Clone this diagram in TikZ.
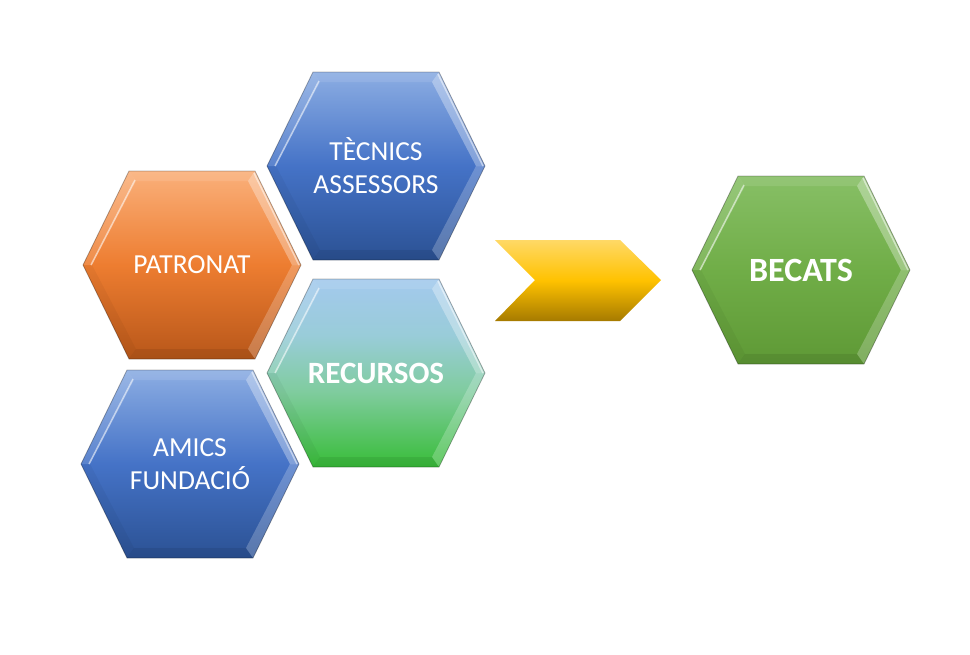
\documentclass[tikz,border=0pt]{standalone}
\usepackage{fontspec}
\setmainfont{Carlito}
\begin{document}
\pgfdeclareverticalshading{blueshade}{100bp}{rgb(0bp)=(0.17,0.32,0.58); rgb(25bp)=(0.17,0.32,0.58); rgb(50bp)=(0.27,0.45,0.78); rgb(75bp)=(0.55,0.68,0.89); rgb(100bp)=(0.55,0.68,0.89)}
\pgfdeclareverticalshading{orangeshade}{100bp}{rgb(0bp)=(0.72,0.34,0.10); rgb(25bp)=(0.72,0.34,0.10); rgb(50bp)=(0.93,0.49,0.19); rgb(75bp)=(0.98,0.69,0.48); rgb(100bp)=(0.98,0.69,0.48)}
\pgfdeclareverticalshading{recshade}{100bp}{rgb(0bp)=(0.22,0.74,0.22); rgb(25bp)=(0.22,0.74,0.22); rgb(45bp)=(0.50,0.80,0.62); rgb(60bp)=(0.60,0.80,0.85); rgb(75bp)=(0.64,0.79,0.93); rgb(100bp)=(0.64,0.79,0.93)}
\pgfdeclareverticalshading{greenshade}{100bp}{rgb(0bp)=(0.37,0.60,0.21); rgb(25bp)=(0.37,0.60,0.21); rgb(50bp)=(0.44,0.68,0.28); rgb(75bp)=(0.53,0.75,0.40); rgb(100bp)=(0.53,0.75,0.40)}
\pgfdeclareverticalshading{chevshade}{100bp}{rgb(0bp)=(0.65,0.48,0.00); rgb(25bp)=(0.65,0.48,0.00); rgb(50bp)=(1.00,0.76,0.00); rgb(75bp)=(1.00,0.85,0.40); rgb(100bp)=(1.00,0.85,0.40)}
\tikzset{
  hextext/.style={text=white, align=center, font=\fontsize{27.5}{33}\selectfont, inner sep=0pt},
  hexbold/.style={hextext, font=\fontsize{31}{33}\selectfont\bfseries},
  hexbig/.style={hextext, font=\fontsize{34}{36}\selectfont\bfseries},
}
\newcommand{\hexa}[6]{%
\begin{scope}[shift={(#2,#3)}]
  \shade[shading=#4] (-109,0) -- (-63,-94) -- (63,-94) -- (109,0) -- (63,94) -- (-63,94) -- cycle;
  \fill[white,opacity=0.10] (-63,-94) -- (63,-94) -- (56,-84) -- (-56,-84) -- cycle;
  \fill[white,opacity=0.32] (63,-94) -- (109,0) -- (100,0) -- (56,-84) -- cycle;
  \fill[white,opacity=0.22] (109,0) -- (63,94) -- (56,84) -- (100,0) -- cycle;
  \fill[black,opacity=0.08] (63,94) -- (-63,94) -- (-56,84) -- (56,84) -- cycle;
  \fill[black,opacity=0.04] (-63,94) -- (-109,0) -- (-100,0) -- (-56,84) -- cycle;
  \fill[white,opacity=0.12] (-109,0) -- (-63,-94) -- (-56,-84) -- (-100,0) -- cycle;
  \draw[white,opacity=0.55,line width=1.5pt] (-101,0) -- (-57,-85);
  \draw[white,opacity=0.5,line width=1.5pt] (62,-92) -- (107,0);
  \draw[black,opacity=0.3,line width=0.8pt] (-109,0) -- (-63,-94) -- (63,-94) -- (109,0) -- (63,94) -- (-63,94) -- cycle;
  \node[#6] (#1) at (0,0) {#5};
\end{scope}}
\begin{tikzpicture}[x=1pt,y=-1pt]
\useasboundingbox (0,0) rectangle (970,654);
\hexa{tecnics}{376}{166}{blueshade}{TÈCNICS\\ASSESSORS}{hextext}
\hexa{patronat}{192}{265}{orangeshade}{PATRONAT}{hextext}
\hexa{recursos}{376}{373}{recshade}{RECURSOS}{hexbold}
\hexa{amics}{190}{464}{blueshade}{AMICS\\FUNDACIÓ}{hextext}
\hexa{becats}{801}{270}{greenshade}{BECATS}{hexbig}
\shade[shading=chevshade] (495,240) -- (620,240) -- (661,280) -- (620,321) -- (495,321) -- (535,280) -- cycle;
\end{tikzpicture}
\end{document}
